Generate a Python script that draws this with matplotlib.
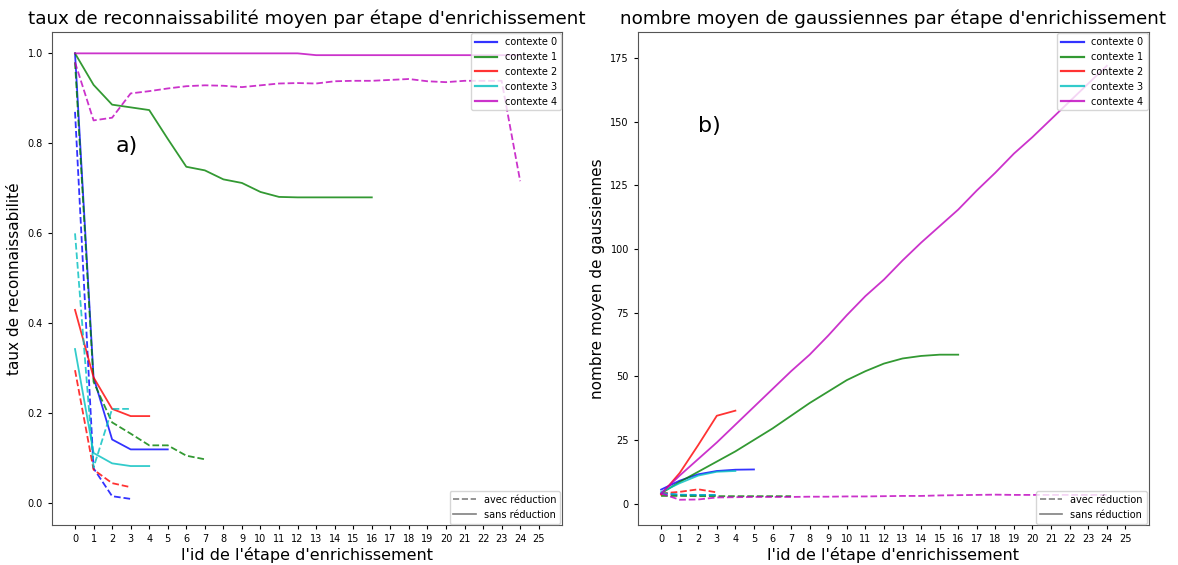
import matplotlib.pyplot as plt
from matplotlib.lines import Line2D

colors = ['b', 'g', 'r', 'c', 'm']
context_labels = ['contexte 0', 'contexte 1', 'contexte 2', 'contexte 3', 'contexte 4']
xticks = list(range(26))

# taux de reconnaissabilite moyen, sans reduction (solid) / avec reduction (dashed)
taux_sans_0 = [1.0, 0.28, 0.142, 0.12, 0.12, 0.12]
taux_sans_1 = [1.0, 0.93, 0.886, 0.88, 0.874, 0.81, 0.748, 0.74, 0.72, 0.712, 0.692,
               0.681, 0.68, 0.68, 0.68, 0.68, 0.68]
taux_sans_2 = [0.43, 0.28, 0.21, 0.194, 0.194]
taux_sans_3 = [0.343, 0.112, 0.089, 0.083, 0.083]
taux_sans_4 = [1.0, 1.0, 1.0, 1.0, 1.0, 1.0, 1.0, 1.0, 1.0, 1.0, 1.0, 1.0, 1.0,
               0.996, 0.996, 0.996, 0.996, 0.996, 0.996, 0.996, 0.996, 0.996, 0.996,
               0.996, 0.996]

taux_avec_0 = [0.87, 0.078, 0.016, 0.01]
taux_avec_1 = [0.98, 0.27, 0.18, 0.155, 0.129, 0.129, 0.106, 0.098]
taux_avec_2 = [0.296, 0.075, 0.045, 0.036]
taux_avec_3 = [0.6, 0.08, 0.21, 0.21]
taux_avec_4 = [0.98, 0.851, 0.857, 0.911, 0.916, 0.922, 0.927, 0.929, 0.928, 0.925,
               0.929, 0.933, 0.934, 0.933, 0.938, 0.939, 0.939, 0.941, 0.943, 0.938,
               0.936, 0.939, 0.939, 0.939, 0.716]

# nombre moyen de gaussiennes
gauss_sans_0 = [5.5, 9.0, 11.5, 12.8, 13.3, 13.4]
gauss_sans_1 = [4.0, 8.5, 12.5, 16.5, 20.5, 25.0, 29.5, 34.5, 39.5, 44.0, 48.5, 52.0,
                55.0, 57.0, 58.0, 58.5, 58.5]
gauss_sans_2 = [3.5, 12.0, 23.0, 34.5, 36.5]
gauss_sans_3 = [4.5, 8.0, 11.0, 12.5, 12.8]
gauss_sans_4 = [4.0, 11.0, 17.5, 24.0, 31.0, 38.0, 45.0, 52.0, 58.5, 66.0, 74.0, 81.5,
                88.0, 95.5, 102.5, 109.0, 115.5, 123.0, 130.0, 137.5, 144.0, 151.0,
                158.0, 165.0, 172.0]

gauss_avec_0 = [4.0, 3.4, 3.3, 3.3]
gauss_avec_1 = [3.0, 3.0, 2.9, 2.9, 2.9, 2.9, 2.9, 2.9]
gauss_avec_2 = [4.0, 4.6, 5.6, 4.4]
gauss_avec_3 = [4.2, 3.5, 3.4, 3.4]
gauss_avec_4 = [4.0, 1.5, 1.6, 2.4, 2.5, 2.6, 2.6, 2.6, 2.7, 2.7, 2.8, 2.8, 2.9, 3.0,
                3.0, 3.2, 3.3, 3.4, 3.5, 3.4, 3.4, 3.4, 3.4, 3.4, 3.4]

taux_sans = [taux_sans_0, taux_sans_1, taux_sans_2, taux_sans_3, taux_sans_4]
taux_avec = [taux_avec_0, taux_avec_1, taux_avec_2, taux_avec_3, taux_avec_4]
gauss_sans = [gauss_sans_0, gauss_sans_1, gauss_sans_2, gauss_sans_3, gauss_sans_4]
gauss_avec = [gauss_avec_0, gauss_avec_1, gauss_avec_2, gauss_avec_3, gauss_avec_4]


def draw(ax, sans, avec, title, ylabel, letter, letter_pos, ylim):
    for i in range(len(sans)):
        ax.plot(range(len(avec[i])), avec[i], color=colors[i], linestyle='--', alpha=0.8, linewidth=1.3)
        ax.plot(range(len(sans[i])), sans[i], color=colors[i], linestyle='-', alpha=0.8, linewidth=1.3)
    ax.set_xticks(xticks)
    ax.set_xlim(-1.25, 26.25)
    ax.set_ylim(*ylim)
    ax.tick_params(labelsize=7, length=3)
    ax.set_title(title, fontsize=13.2)
    ax.set_xlabel("l'id de l'étape d'enrichissement", fontsize=11.5, labelpad=2)
    ax.set_ylabel(ylabel, fontsize=11)
    ax.text(letter_pos[0], letter_pos[1], letter, fontsize=16)
    for s in ax.spines.values():
        s.set_color('#555555')

    ctx_handles = [Line2D([0], [0], color=c, alpha=0.8, linewidth=1.6) for c in colors]
    leg1 = ax.legend(ctx_handles, context_labels, loc='upper right', fontsize=7,
                     borderaxespad=0.1, handlelength=2.3)
    ax.add_artist(leg1)
    red_handles = [Line2D([0], [0], color='gray', linestyle='--', linewidth=1.2),
                   Line2D([0], [0], color='gray', linestyle='-', linewidth=1.2)]
    ax.legend(red_handles, ['avec réduction', 'sans réduction'], loc='lower right',
              fontsize=7, borderaxespad=0.2, handlelength=2.3)


fig = plt.figure(figsize=(11.78, 5.65), dpi=100)
ax1 = fig.add_axes([0.044, 0.07, 0.433, 0.873])
ax2 = fig.add_axes([0.5415, 0.07, 0.4335, 0.873])

draw(ax1, taux_sans, taux_avec, "taux de reconnaissabilité moyen par étape d'enrichissement",
     "taux de reconnaissabilité", 'a)', (2.2, 0.78), (-0.049, 1.047))
draw(ax2, gauss_sans, gauss_avec, "nombre moyen de gaussiennes par étape d'enrichissement",
     "nombre moyen de gaussiennes", 'b)', (2.0, 146), (-8.6, 185.2))

fig.savefig('out.png')
plt.close(fig)
